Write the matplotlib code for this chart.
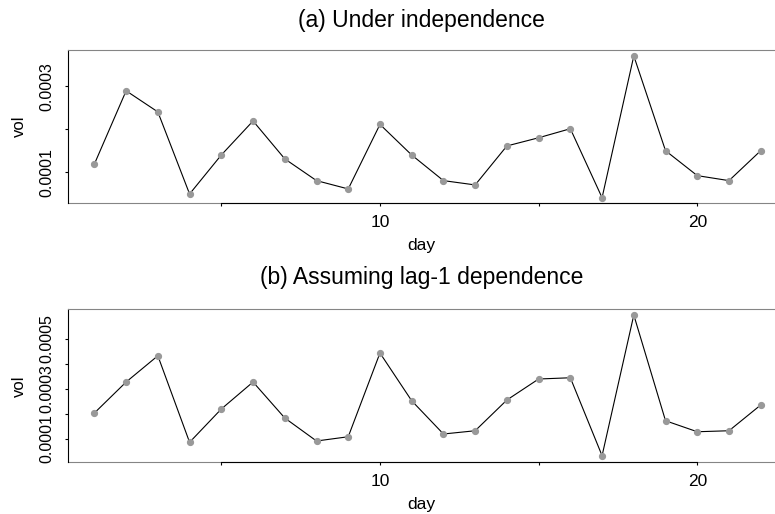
import matplotlib
matplotlib.use("Agg")
import matplotlib.pyplot as plt
from matplotlib.ticker import FixedLocator, FixedFormatter

plt.rcParams['font.family'] = ['Liberation Sans', 'DejaVu Sans']

# daily volatility estimates
days = list(range(1, 23))
vol_indep = [0.000119, 0.000289, 0.000240, 0.0000495, 0.000140, 0.000219,
             0.000131, 0.0000805, 0.0000612, 0.000211, 0.000140, 0.0000805,
             0.0000705, 0.000161, 0.000180, 0.000201, 0.0000409, 0.000370,
             0.000150, 0.0000921, 0.0000805, 0.000150]
vol_lag1 = [0.000204, 0.000328, 0.000433, 0.0000868, 0.000220, 0.000328,
            0.000184, 0.000092, 0.000109, 0.000444, 0.000253, 0.000120,
            0.000133, 0.000256, 0.000340, 0.000345, 0.0000332, 0.000596,
            0.000173, 0.000129, 0.000133, 0.000236]

x_ticks = [5, 10, 15, 20]
x_ticklabels = ["", "10", "", "20"]
yticks_a = [0.0001, 0.0002, 0.0003]
ylabels_a = ["0.0001", "", "0.0003"]
yticks_b = [0.0001, 0.0002, 0.0003, 0.0004, 0.0005]
ylabels_b = ["0.0001", "", "0.0003", "", "0.0005"]

panels = [
    ("(a) Under independence", vol_indep, yticks_a, ylabels_a,
     (0.0000279, 0.0003837), [0.0877, 0.6045, 0.9123, 0.2982], 16.5),
    ("(b) Assuming lag-1 dependence", vol_lag1, yticks_b, ylabels_b,
     (0.0000068, 0.000619), [0.0877, 0.1006, 0.9123, 0.2977], 18.5),
]

frame_gray = '#858585'

fig = plt.figure(figsize=(7.75, 5.14), dpi=100)
for title, vals, yt, yl, ylim, pos, tpad in panels:
    ax = fig.add_axes(pos)
    ax.plot(days, vals, color='black', lw=0.8, marker='o', markersize=4.2,
            markerfacecolor='#999999', markeredgecolor='#999999')
    ax.set_xlim(0.167, 22.45)
    ax.set_ylim(*ylim)

    ax.spines['right'].set_visible(False)
    ax.spines['top'].set_color(frame_gray)
    ax.spines['left'].set_color('black')
    ax.spines['bottom'].set_color('black')
    ax.spines['bottom'].set_bounds(x_ticks[0], x_ticks[-1])
    ax.spines['bottom'].set_zorder(3)
    # gray frame under the black axis line
    ax.plot([0, 1], [0, 0], transform=ax.transAxes, color=frame_gray,
            lw=0.8, clip_on=False, zorder=2)

    ax.xaxis.set_major_locator(FixedLocator(x_ticks))
    ax.xaxis.set_major_formatter(FixedFormatter(x_ticklabels))
    ax.yaxis.set_major_locator(FixedLocator(yt))
    ax.yaxis.set_major_formatter(FixedFormatter(yl))
    ax.tick_params(axis='x', direction='out', length=2.5, width=0.8,
                   pad=6, labelsize=12.5)
    ax.tick_params(axis='y', direction='out', length=2.5, width=0.8,
                   pad=7.5, labelsize=11.5, labelrotation=90)
    for lab in ax.get_yticklabels():
        lab.set_va('center')

    ax.set_xlabel('day', fontsize=12.5, labelpad=6)
    ax.set_ylabel('vol', fontsize=12)
    ax.yaxis.set_label_coords(-0.058, 0.5)
    ax.set_title(title, fontsize=16.5, pad=tpad)

fig.savefig('out.png', dpi=100)
